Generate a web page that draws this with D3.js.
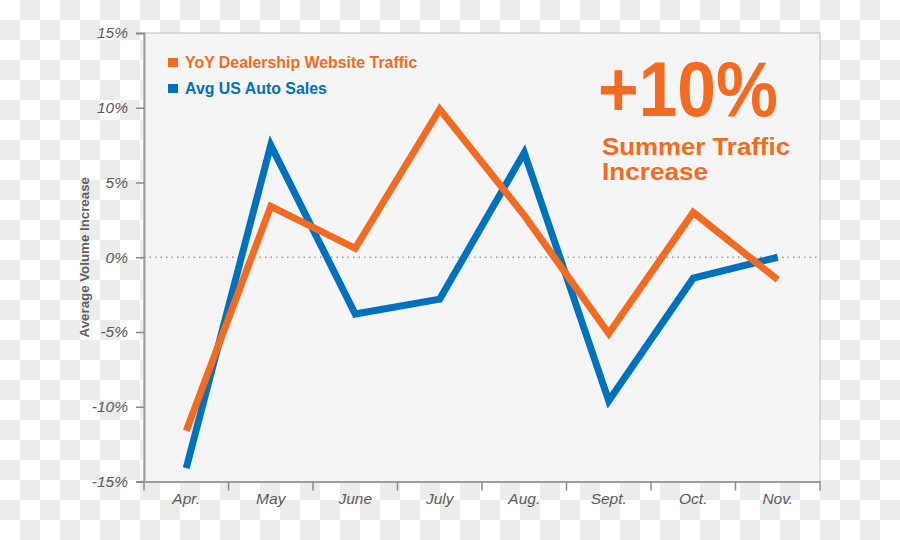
<!DOCTYPE html>
<html><head><meta charset="utf-8">
<script src="https://cdn.jsdelivr.net/npm/d3@7"></script>
<style>body{margin:0;padding:0;overflow:hidden}svg{display:block}</style>
</head><body>
<svg id="chart" width="900" height="540"></svg>
<script>
const months = ["Apr.","May","June","July","Aug.","Sept.","Oct.","Nov."];
const trafficValues = [-11.6, 3.4, 0.6, 9.9, 2.8, -5.1, 3.0, -1.5];
const salesValues = [-14.1, 7.5, -3.8, -2.8, 7.0, -9.6, -1.4, 0.0];
const yTicks = [15, 10, 5, 0, -5, -10, -15];
const seriesNames = ["YoY Dealership Website Traffic", "Avg US Auto Sales"];

const W = 900, H = 540;
const m = {left:144, right:80, top:33, bottom:59};
const svg = d3.select("#chart");
const orange = "#f26b22", blue = "#0071bc";

// checkerboard background
const defs = svg.append("defs");
const pat = defs.append("pattern").attr("id","chk").attr("width",40).attr("height",40).attr("patternUnits","userSpaceOnUse");
pat.append("rect").attr("width",40).attr("height",40).attr("fill","#ffffff");
pat.append("rect").attr("x",20).attr("y",0).attr("width",20).attr("height",20).attr("fill","#ececec");
pat.append("rect").attr("x",0).attr("y",20).attr("width",20).attr("height",20).attr("fill","#ececec");
svg.append("rect").attr("width",W).attr("height",H).attr("fill","url(#chk)");

const x = d3.scaleBand().domain(months).range([m.left, W - m.right]);
const y = d3.scaleLinear().domain([-15, 15]).range([H - m.bottom + 0.5, m.top]);

// plot area
svg.append("rect").attr("x", m.left).attr("y", m.top)
  .attr("width", W - m.right - m.left).attr("height", y(-15) - m.top)
  .attr("fill", "#f5f5f5").attr("stroke", "#bdbdbd").attr("stroke-width", 1);

// zero line
svg.append("line").attr("x1", m.left).attr("x2", W - m.right)
  .attr("y1", y(0)).attr("y2", y(0))
  .attr("stroke", "#9a9a9a").attr("stroke-width", 1.5).attr("stroke-dasharray", "1.5,4");

// y axis
const yAxis = d3.axisLeft(y).tickValues(yTicks).tickSize(8).tickPadding(8)
  .tickFormat(d => d + "%");
const gy = svg.append("g").attr("transform", `translate(${m.left},0)`).call(yAxis);
gy.select(".domain").attr("stroke", "#9e9e9e").attr("stroke-width", 2);
gy.selectAll(".tick line").attr("stroke", "#8a8a8a").attr("stroke-width", 1.5);
gy.selectAll(".tick text").attr("fill", "#5a5a5a").attr("font-family", "Liberation Sans, Arial, sans-serif")
  .attr("font-size", 15.5).attr("font-style", "italic");

// x axis
const xAxis = d3.axisBottom(x).tickSize(0).tickPadding(11);
const gx = svg.append("g").attr("transform", `translate(0,${y(-15)})`).call(xAxis);
gx.select(".domain").attr("stroke", "#9e9e9e").attr("stroke-width", 2);
gx.selectAll(".tick text").attr("fill", "#5a5a5a").attr("font-family", "Liberation Sans, Arial, sans-serif")
  .attr("font-size", 15.5).attr("font-style", "italic");
// boundary ticks
const bounds = months.map(d => x(d)).concat([x(months[months.length-1]) + x.bandwidth()]);
gx.selectAll(".btick").data(bounds).enter().append("line")
  .attr("x1", d => d).attr("x2", d => d).attr("y1", 0).attr("y2", 9)
  .attr("stroke", "#8a8a8a").attr("stroke-width", 1.5);

// y title
svg.append("text").attr("transform", `translate(89,${y(0)}) rotate(-90)`)
  .attr("text-anchor", "middle").attr("fill", "#5f5f5f")
  .attr("font-family", "Liberation Sans, Arial, sans-serif").attr("font-weight", "bold").attr("font-size", 13.3)
  .text("Average Volume Increase");

// lines
const line = d3.line().x((d, i) => x(months[i]) + x.bandwidth() / 2).y(d => y(d));
svg.append("path").datum(salesValues).attr("d", line).attr("fill", "none")
  .attr("stroke", blue).attr("stroke-width", 7).attr("stroke-linejoin", "miter").attr("stroke-linecap", "butt");
svg.append("path").datum(trafficValues).attr("d", line).attr("fill", "none")
  .attr("stroke", orange).attr("stroke-width", 7).attr("stroke-linejoin", "miter").attr("stroke-linecap", "butt");

// legend
const legColors = [orange, blue];
const lg = svg.append("g");
seriesNames.forEach((n, i) => {
  const yy = 63 + i * 26;
  lg.append("rect").attr("x", 168).attr("y", yy - 5).attr("width", 10).attr("height", 9).attr("fill", legColors[i]);
  lg.append("text").attr("x", 185).attr("y", yy + 5).attr("fill", legColors[i])
    .attr("font-family", "Liberation Sans, Arial, sans-serif").attr("font-weight", "bold").attr("font-size", 15.9)
    .text(n);
});

// annotation
const ann = svg.append("g").attr("fill", orange).attr("font-family", "Liberation Sans, Arial, sans-serif").attr("font-weight", "bold");
ann.append("text").attr("x", 598).attr("y", 115.5).attr("font-size", 78)
  .attr("textLength", 180).attr("lengthAdjust", "spacingAndGlyphs").text("+10%");
ann.append("text").attr("x", 602).attr("y", 154.5).attr("font-size", 24)
  .attr("textLength", 188).attr("lengthAdjust", "spacingAndGlyphs").text("Summer Traffic");
ann.append("text").attr("x", 602).attr("y", 180).attr("font-size", 24)
  .attr("textLength", 106).attr("lengthAdjust", "spacingAndGlyphs").text("Increase");
</script>
</body></html>
